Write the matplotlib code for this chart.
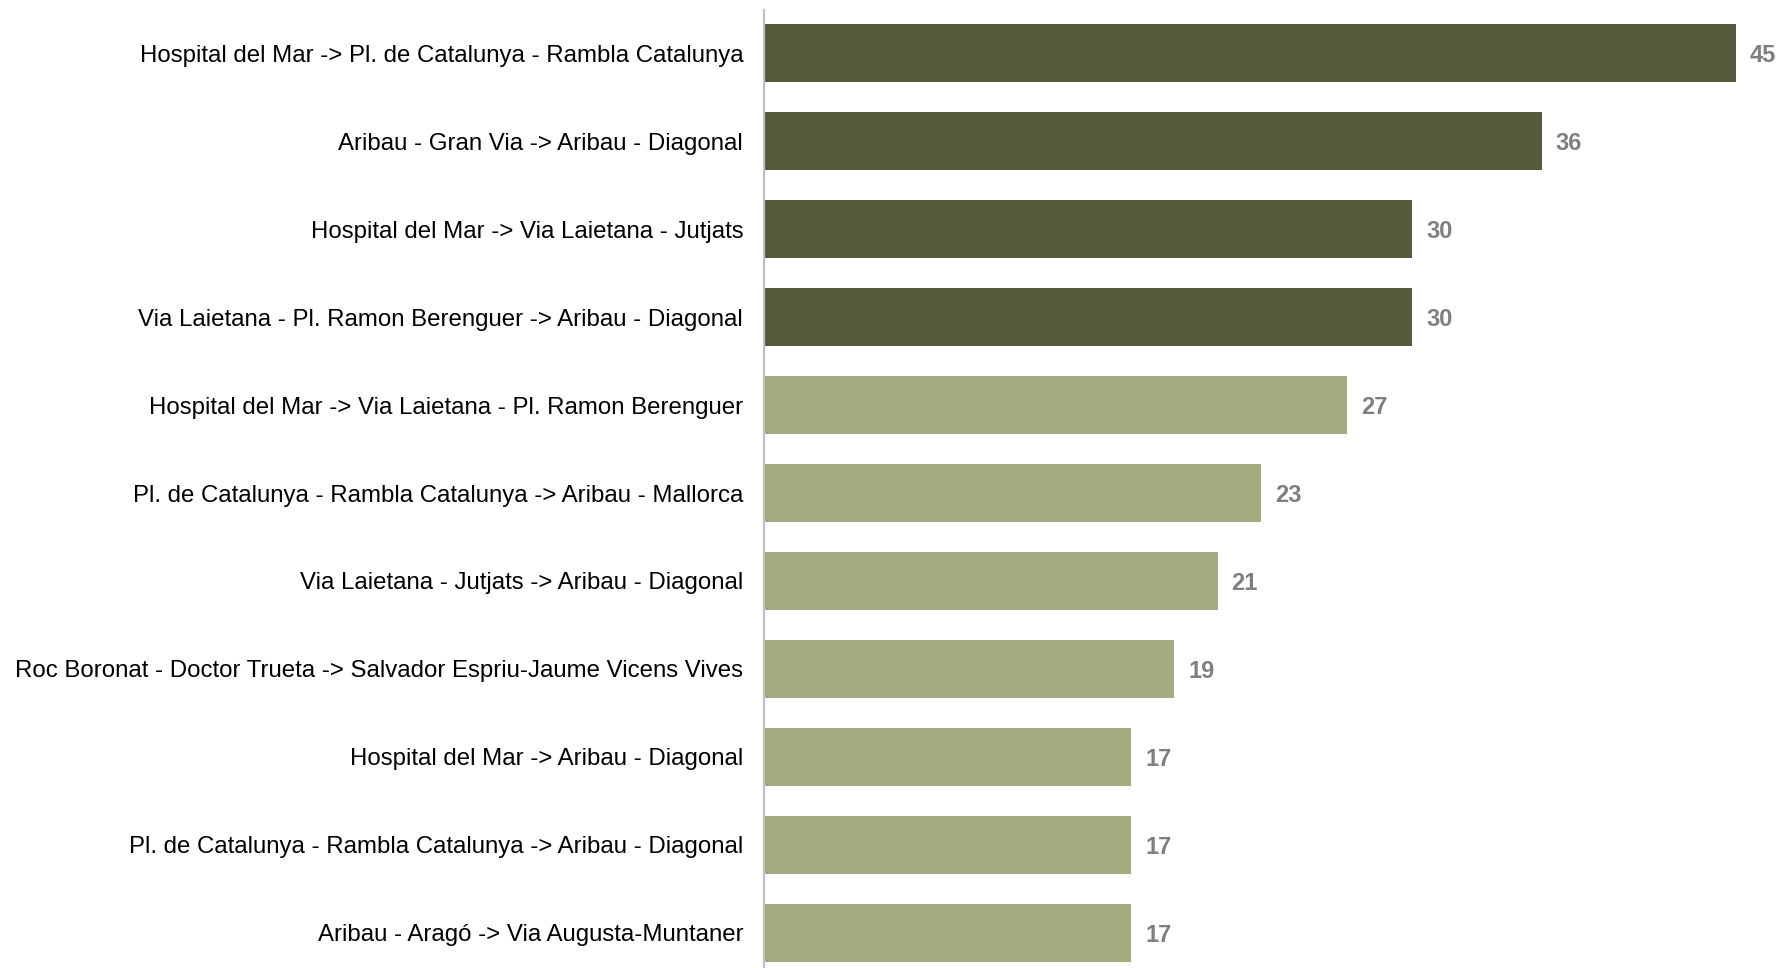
import matplotlib
matplotlib.use("Agg")
import matplotlib.pyplot as plt

categories = [
    "Hospital del Mar -> Pl. de Catalunya - Rambla Catalunya",
    "Aribau - Gran Via -> Aribau - Diagonal",
    "Hospital del Mar -> Via Laietana - Jutjats",
    "Via Laietana - Pl. Ramon Berenguer -> Aribau - Diagonal",
    "Hospital del Mar -> Via Laietana - Pl. Ramon Berenguer",
    "Pl. de Catalunya - Rambla Catalunya -> Aribau - Mallorca",
    "Via Laietana - Jutjats -> Aribau - Diagonal",
    "Roc Boronat - Doctor Trueta -> Salvador Espriu-Jaume Vicens Vives",
    "Hospital del Mar -> Aribau - Diagonal",
    "Pl. de Catalunya - Rambla Catalunya -> Aribau - Diagonal",
    "Aribau - Aragó -> Via Augusta-Muntaner",
]
values = [45, 36, 30, 30, 27, 23, 21, 19, 17, 17, 17]
highlight = [True, True, True, True, False, False, False, False, False, False, False]

dark = "#545A3C"
light = "#A4AB80"

plt.rcParams['font.family'] = ['Liberation Sans', 'DejaVu Sans']

W, H = 1782, 968
fig = plt.figure(figsize=(W / 100, H / 100), dpi=100)
ax = fig.add_axes([764 / W, 0, (1736 - 764) / W, (H - 10) / H])

ypos = list(range(len(categories)))
colors = [dark if h else light for h in highlight]
ax.barh(ypos, values, height=0.66, color=colors, edgecolor='none')

ax.set_xlim(0, 45)
ax.set_ylim(len(categories) - 1 + 0.398, -0.489)
ax.set_yticks(ypos)
ax.set_yticklabels(categories, fontsize=17.3, color='black')
ax.tick_params(axis='y', length=0, pad=15)
ax.set_xticks([])

for s in ['top', 'right', 'bottom']:
    ax.spines[s].set_visible(False)
ax.spines['left'].set_color('#BFBFBF')
ax.spines['left'].set_linewidth(1.6)

for y, v in zip(ypos, values):
    ax.annotate(str(v), xy=(v, y), xytext=(14, 0), textcoords='offset pixels',
                ha='left', va='center_baseline', fontsize=17, fontweight='bold',
                color='#7F7F7F', annotation_clip=False)

fig.savefig("out.png", dpi=100)
